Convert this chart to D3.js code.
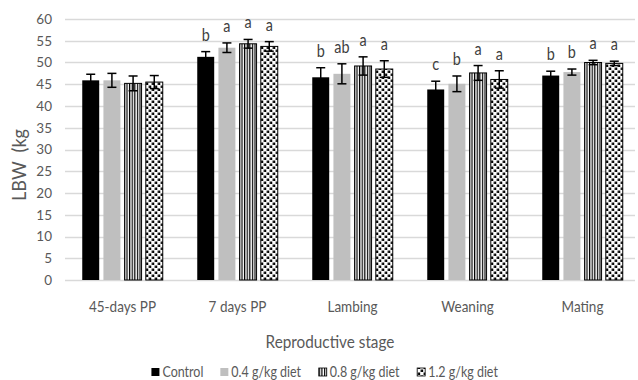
<!DOCTYPE html>
<html>
<head>
<meta charset="utf-8">
<script src="https://cdn.jsdelivr.net/npm/d3@7"></script>
<style>
  body { margin: 0; background: #fff; }
  svg text { font-family: Lato, "Open Sans", sans-serif; }
</style>
</head>
<body>
<div id="chart"></div>
<script>
// data
var stages = ["45-days PP", "7 days PP", "Lambing", "Weaning", "Mating"];
var series = ["Control", "0.4 g/kg diet", "0.8 g/kg diet", "1.2 g/kg diet"];

var control = [45.9, 51.3, 46.6, 43.8, 47.0];
var diet04  = [45.9, 53.4, 47.4, 45.1, 47.8];
var diet08  = [45.2, 54.3, 49.2, 47.6, 50.0];
var diet12  = [45.5, 53.7, 48.5, 46.1, 49.8];

var controlErr = [1.4, 1.2, 2.2, 1.9, 1.0];
var diet04Err  = [1.6, 1.1, 2.3, 1.8, 0.7];
var diet08Err  = [1.7, 1.0, 2.1, 1.7, 0.5];
var diet12Err  = [1.5, 1.1, 1.9, 2.0, 0.5];

var controlSig = ["", "b", "b", "c", "b"];
var diet04Sig  = ["", "a", "ab", "b", "b"];
var diet08Sig  = ["", "a", "a", "a", "a"];
var diet12Sig  = ["", "a", "a", "a", "a"];

var yTicks = [0, 5, 10, 15, 20, 25, 30, 35, 40, 45, 50, 55, 60];

var values = [control, diet04, diet08, diet12];
var errors = [controlErr, diet04Err, diet08Err, diet12Err];
var sigs = [controlSig, diet04Sig, diet08Sig, diet12Sig];
var fills = ["#000000", "#bfbfbf", "url(#stripes)", "url(#dots)"];
var strokes = ["none", "none", "#000", "#000"];

var W = 638, H = 380;
var margin = { top: 19, right: 0, bottom: 100, left: 65 };

// squeeze text horizontally like the narrow font of the original
function squash(sel, k) {
    sel.each(function () {
        var w = this.getComputedTextLength();
        d3.select(this).attr("textLength", w * k).attr("lengthAdjust", "spacingAndGlyphs");
    });
}

var svg = d3.select("#chart").append("svg")
    .attr("width", W)
    .attr("height", H);

// patterns
var defs = svg.append("defs");
var stripes = defs.append("pattern")
    .attr("id", "stripes")
    .attr("patternUnits", "userSpaceOnUse")
    .attr("width", 2.6).attr("height", 3);
stripes.append("rect").attr("width", 2.6).attr("height", 3).attr("fill", "#fff");
stripes.append("rect").attr("width", 1.2).attr("height", 3).attr("fill", "#000");

var dots = defs.append("pattern")
    .attr("id", "dots")
    .attr("patternUnits", "userSpaceOnUse")
    .attr("width", 6).attr("height", 6);
dots.append("rect").attr("width", 6).attr("height", 6).attr("fill", "#fff");
dots.append("rect").attr("x", 0.5).attr("y", 0.5).attr("width", 2.5).attr("height", 2.5).attr("fill", "#000");
dots.append("rect").attr("x", 3.5).attr("y", 3.5).attr("width", 2.5).attr("height", 2.5).attr("fill", "#000");

var plotW = 575;
var plotH = 280 - margin.top;

var g = svg.append("g")
    .attr("transform", "translate(" + margin.left + "," + margin.top + ")");

// scales
var x0 = d3.scaleBand()
    .domain(stages)
    .range([0, plotW])
    .paddingInner(0.3)
    .paddingOuter(0.15);

var x1 = d3.scaleBand()
    .domain(d3.range(series.length))
    .range([0, x0.bandwidth()])
    .paddingInner(0.2);

var y = d3.scaleLinear()
    .domain([0, 60])
    .range([plotH, 0]);

// gridlines
g.append("g")
    .selectAll("line")
    .data(yTicks)
    .enter().append("line")
    .attr("x1", 0)
    .attr("x2", plotW - 5)
    .attr("y1", function (d) { return Math.round(y(d)) + 0.5; })
    .attr("y2", function (d) { return Math.round(y(d)) + 0.5; })
    .attr("stroke", "#d9d9d9")
    .attr("stroke-width", 1.3);

// y axis labels
var yAxis = d3.axisLeft(y).tickValues(yTicks).tickSize(0).tickPadding(13);
var yg = g.append("g").call(yAxis);
yg.select(".domain").remove();
yg.selectAll("text")
    .attr("font-size", 13.5)
    .attr("font-family", "Lato, sans-serif")
    .attr("fill", "#595959");

// x axis labels
var xAxis = d3.axisBottom(x0).tickSize(0).tickPadding(21);
var xg = g.append("g")
    .attr("transform", "translate(0," + plotH + ")")
    .call(xAxis);
xg.select(".domain").remove();
xg.selectAll("text")
    .attr("font-size", 15)
    .attr("font-family", "Lato, sans-serif")
    .attr("fill", "#595959")
    .call(squash, 0.9);

// bars
var groups = g.selectAll(".stage")
    .data(stages)
    .enter().append("g")
    .attr("class", "stage")
    .attr("transform", function (d) { return "translate(" + x0(d) + ",0)"; });

groups.each(function (stage, si) {
    var grp = d3.select(this);
    var rows = series.map(function (s, k) {
        return { k: k, v: values[k][si], e: errors[k][si], sig: sigs[k][si] };
    });

    grp.selectAll("rect")
        .data(rows)
        .enter().append("rect")
        .attr("x", function (d) { return x1(d.k); })
        .attr("y", function (d) { return y(d.v); })
        .attr("width", x1.bandwidth())
        .attr("height", function (d) { return y(0) - y(d.v); })
        .attr("fill", function (d) { return fills[d.k]; })
        .attr("stroke", function (d) { return strokes[d.k]; })
        .attr("stroke-width", 1);

    // error bars
    var eb = grp.selectAll(".err")
        .data(rows)
        .enter().append("g")
        .attr("class", "err")
        .attr("transform", function (d) { return "translate(" + (x1(d.k) + x1.bandwidth() / 2) + ",0)"; });
    eb.append("line")
        .attr("y1", function (d) { return y(d.v - d.e); })
        .attr("y2", function (d) { return y(d.v + d.e); })
        .attr("stroke", "#000").attr("stroke-width", 1.5);
    eb.append("line")
        .attr("x1", -4.5).attr("x2", 4.5)
        .attr("y1", function (d) { return y(d.v + d.e); })
        .attr("y2", function (d) { return y(d.v + d.e); })
        .attr("stroke", "#000").attr("stroke-width", 1.5);
    eb.append("line")
        .attr("x1", -4.5).attr("x2", 4.5)
        .attr("y1", function (d) { return y(d.v - d.e); })
        .attr("y2", function (d) { return y(d.v - d.e); })
        .attr("stroke", "#000").attr("stroke-width", 1.5);

    // significance letters
    grp.selectAll(".sig")
        .data(rows.filter(function (d) { return d.sig !== ""; }))
        .enter().append("text")
        .attr("class", "sig")
        .attr("x", function (d) { return x1(d.k) + x1.bandwidth() / 2; })
        .attr("y", function (d) { return y(d.v + d.e) - 11; })
        .attr("text-anchor", "middle")
        .attr("font-size", 18)
        .attr("fill", "#404040")
        .text(function (d) { return d.sig; })
        .call(squash, 0.8);
});

// axis titles
svg.append("text")
    .attr("x", 330)
    .attr("y", 348)
    .attr("text-anchor", "middle")
    .attr("font-size", 18)
    .attr("fill", "#595959")
    .text("Reproductive stage")
    .call(squash, 0.85);

svg.append("text")
    .attr("transform", "translate(26,165) rotate(-90)")
    .attr("text-anchor", "middle")
    .attr("font-size", 19)
    .attr("fill", "#595959")
    .attr("xml:space", "preserve")
    .style("white-space", "pre")
    .text("LBW  (kg")
    .call(squash, 0.95);

// legend
var legend = svg.append("g").attr("class", "legend");
var items = legend.selectAll("g")
    .data(series)
    .enter().append("g");
items.append("rect")
    .attr("width", 8).attr("height", 8)
    .attr("y", 368)
    .attr("fill", function (d, k) { return fills[k]; })
    .attr("stroke", function (d, k) { return strokes[k]; })
    .attr("stroke-width", 0.8);
items.append("text")
    .attr("x", 11)
    .attr("y", 377)
    .attr("font-size", 14.5)
    .attr("fill", "#595959")
    .text(function (d) { return d; })
    .call(squash, 0.86);

var offs = [], pos = 0;
items.each(function () {
    offs.push(pos);
    pos += this.getBBox().width + 17;
});
var total = pos - 17;
var startX = 325 - total / 2;
items.attr("transform", function (d, k) { return "translate(" + (startX + offs[k]) + ",0)"; });
</script>
</body>
</html>
